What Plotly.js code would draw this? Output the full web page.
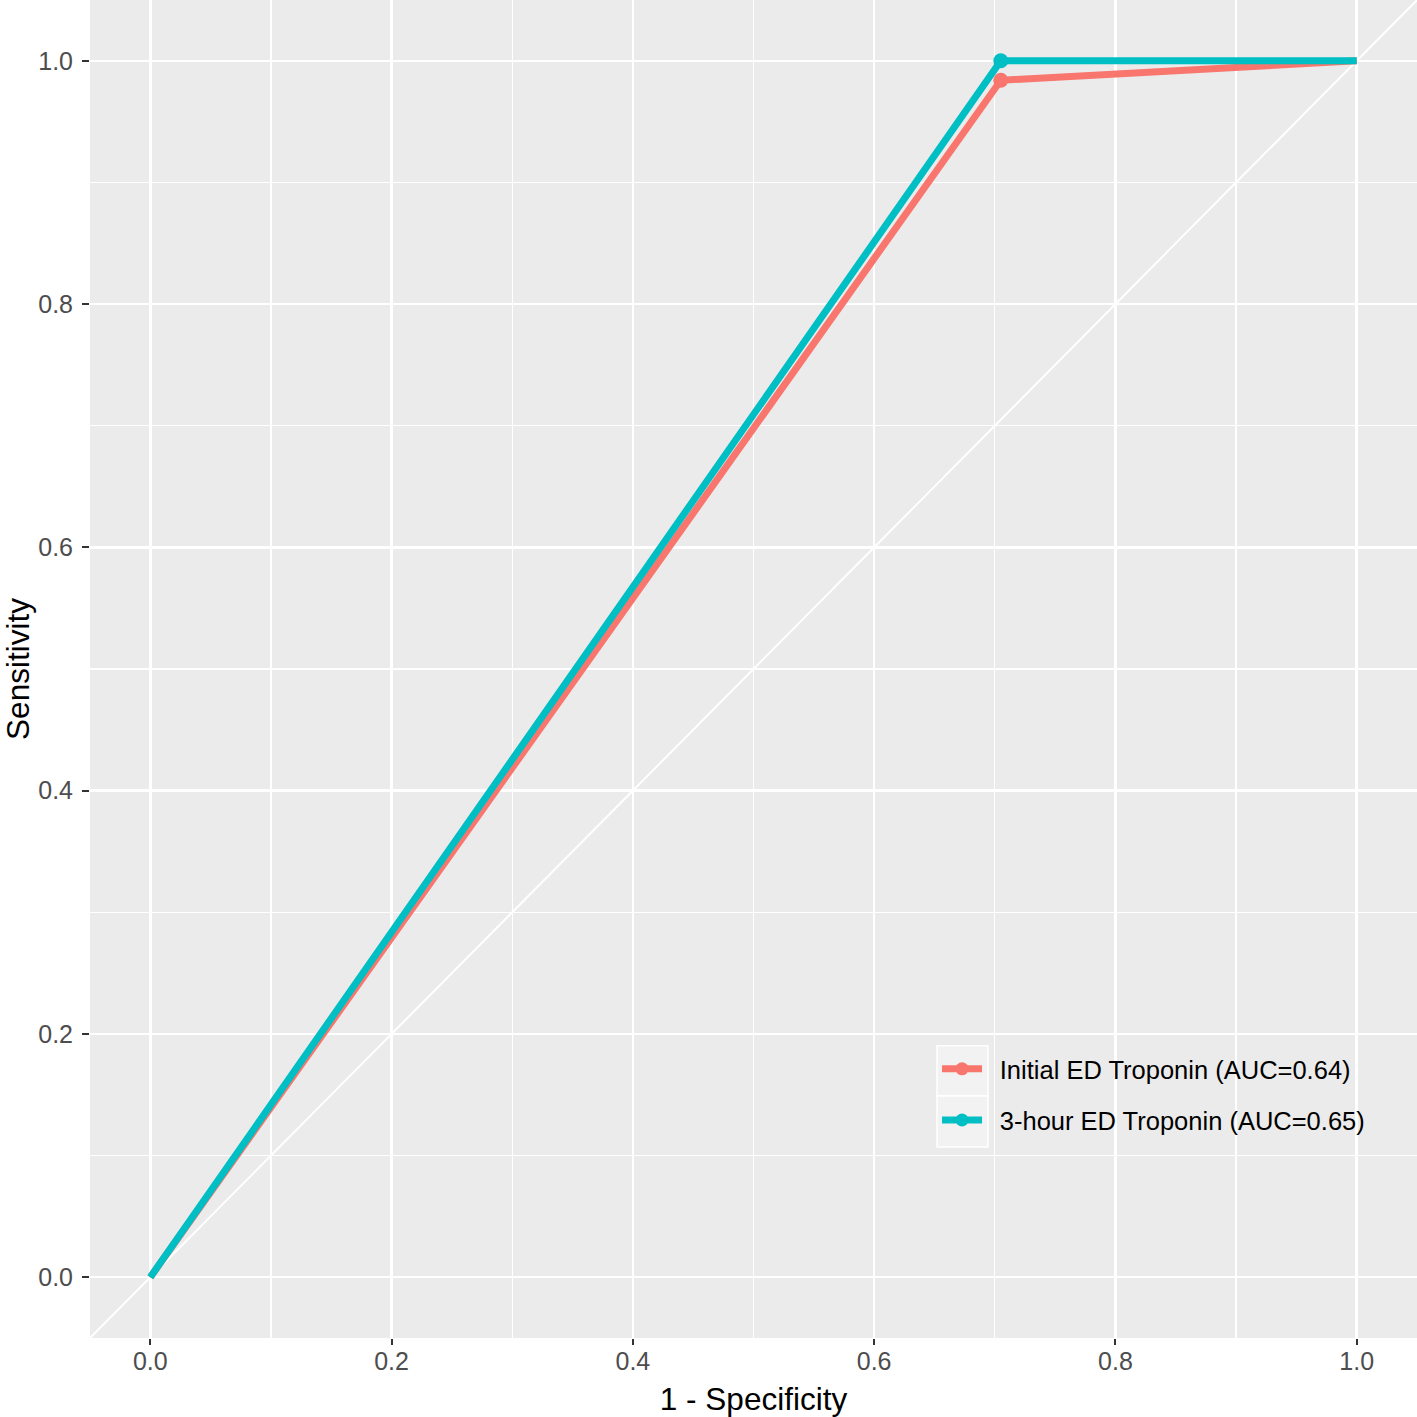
<!DOCTYPE html>
<html>
<head>
<meta charset="utf-8">
<script src="https://cdn.plot.ly/plotly-3.0.1.min.js"></script>
<style>html,body{margin:0;padding:0;background:#fff;}#chart{width:1417px;height:1417px;}</style>
</head>
<body>
<div id="chart"></div>
<script>
// ROC data (1 - specificity, sensitivity)
const fpr = [0, 0.705, 1];
const tprInitial = [0, 0.984, 1];
const tpr3h = [0, 1.0, 1];
const cutoffIndex = [1];
const seriesNames = ["Initial ED Troponin (AUC=0.64)", "3-hour ED Troponin (AUC=0.65)"];
const seriesColors = ["#F8766D", "#00BFC4"];
const tickVals = [0, 0.2, 0.4, 0.6, 0.8, 1.0];
const tickText = ["0.0", "0.2", "0.4", "0.6", "0.8", "1.0"];
const axisRange = [-0.05, 1.05];

const FONT = 'Liberation Sans, Arial, sans-serif';
const series = [tprInitial, tpr3h];
const traces = [];
series.forEach((tpr, i) => {
  traces.push({
    x: fpr, y: tpr, type: 'scatter', mode: 'lines',
    line: {color: seriesColors[i], width: 7},
    showlegend: false, hoverinfo: 'skip'
  });
  traces.push({
    x: cutoffIndex.map(k => fpr[k]), y: cutoffIndex.map(k => tpr[k]),
    type: 'scatter', mode: 'markers',
    marker: {color: seriesColors[i], size: 15},
    showlegend: false, hoverinfo: 'skip'
  });
});
series.forEach((tpr, i) => {
  traces.push({
    x: [null], y: [null], type: 'scatter', mode: 'lines+markers',
    name: '\u2002' + seriesNames[i], legendgroup: 'g' + i,
    line: {color: seriesColors[i], width: 7},
    marker: {color: seriesColors[i], size: 13}
  });
});

const axisCommon = {
  range: axisRange, autorange: false,
  tickvals: tickVals, ticktext: tickText,
  ticks: 'outside', ticklen: 7, tickwidth: 2, tickcolor: '#333333',
  tickfont: {family: FONT, size: 25, color: '#4D4D4D'},
  showgrid: true, gridcolor: '#FFFFFF', gridwidth: 2.5,
  minor: {dtick: 0.1, tick0: 0, showgrid: true, gridcolor: '#FFFFFF', gridwidth: 1.2, ticks: ''},
  zeroline: false, showline: false
};

const layout = {
  width: 1417, height: 1417,
  margin: {l: 90, r: 0, t: 0, b: 79},
  paper_bgcolor: '#FFFFFF', plot_bgcolor: '#EBEBEB',
  xaxis: Object.assign({}, axisCommon, {
    ticklen: 6,
    ticklabelstandoff: -5,
    title: {text: '1 - Specificity', font: {family: FONT, size: 31.5, color: '#000000'}, standoff: 15}
  }),
  yaxis: Object.assign({}, axisCommon, {
    ticklabelstandoff: 4,
    title: {text: 'Sensitivity', font: {family: FONT, size: 31.5, color: '#000000'}, standoff: 14}
  }),
  showlegend: true,
  legend: {
    x: 0.6383, y: 0.2184, xanchor: 'left', yanchor: 'top',
    bgcolor: 'rgba(0,0,0,0)', borderwidth: 0,
    font: {family: FONT, size: 25.5, color: '#000000'},
    itemwidth: 40, tracegroupgap: 15
  },
  shapes: [
    {type: 'line', xref: 'x', yref: 'y', x0: axisRange[0], y0: axisRange[0], x1: axisRange[1], y1: axisRange[1],
     line: {color: '#FFFFFF', width: 2}, layer: 'below'},
    {type: 'rect', xref: 'paper', yref: 'paper', x0: 0.6383, x1: 0.6767, y0: 0.1809, y1: 0.2184,
     fillcolor: '#F2F2F2', line: {color: '#FFFFFF', width: 1.5}, layer: 'above'},
    {type: 'rect', xref: 'paper', yref: 'paper', x0: 0.6383, x1: 0.6767, y0: 0.1428, y1: 0.1809,
     fillcolor: '#F2F2F2', line: {color: '#FFFFFF', width: 1.5}, layer: 'above'}
  ]
};

Plotly.newPlot('chart', traces, layout, {displayModeBar: false, staticPlot: true});
</script>
</body>
</html>
